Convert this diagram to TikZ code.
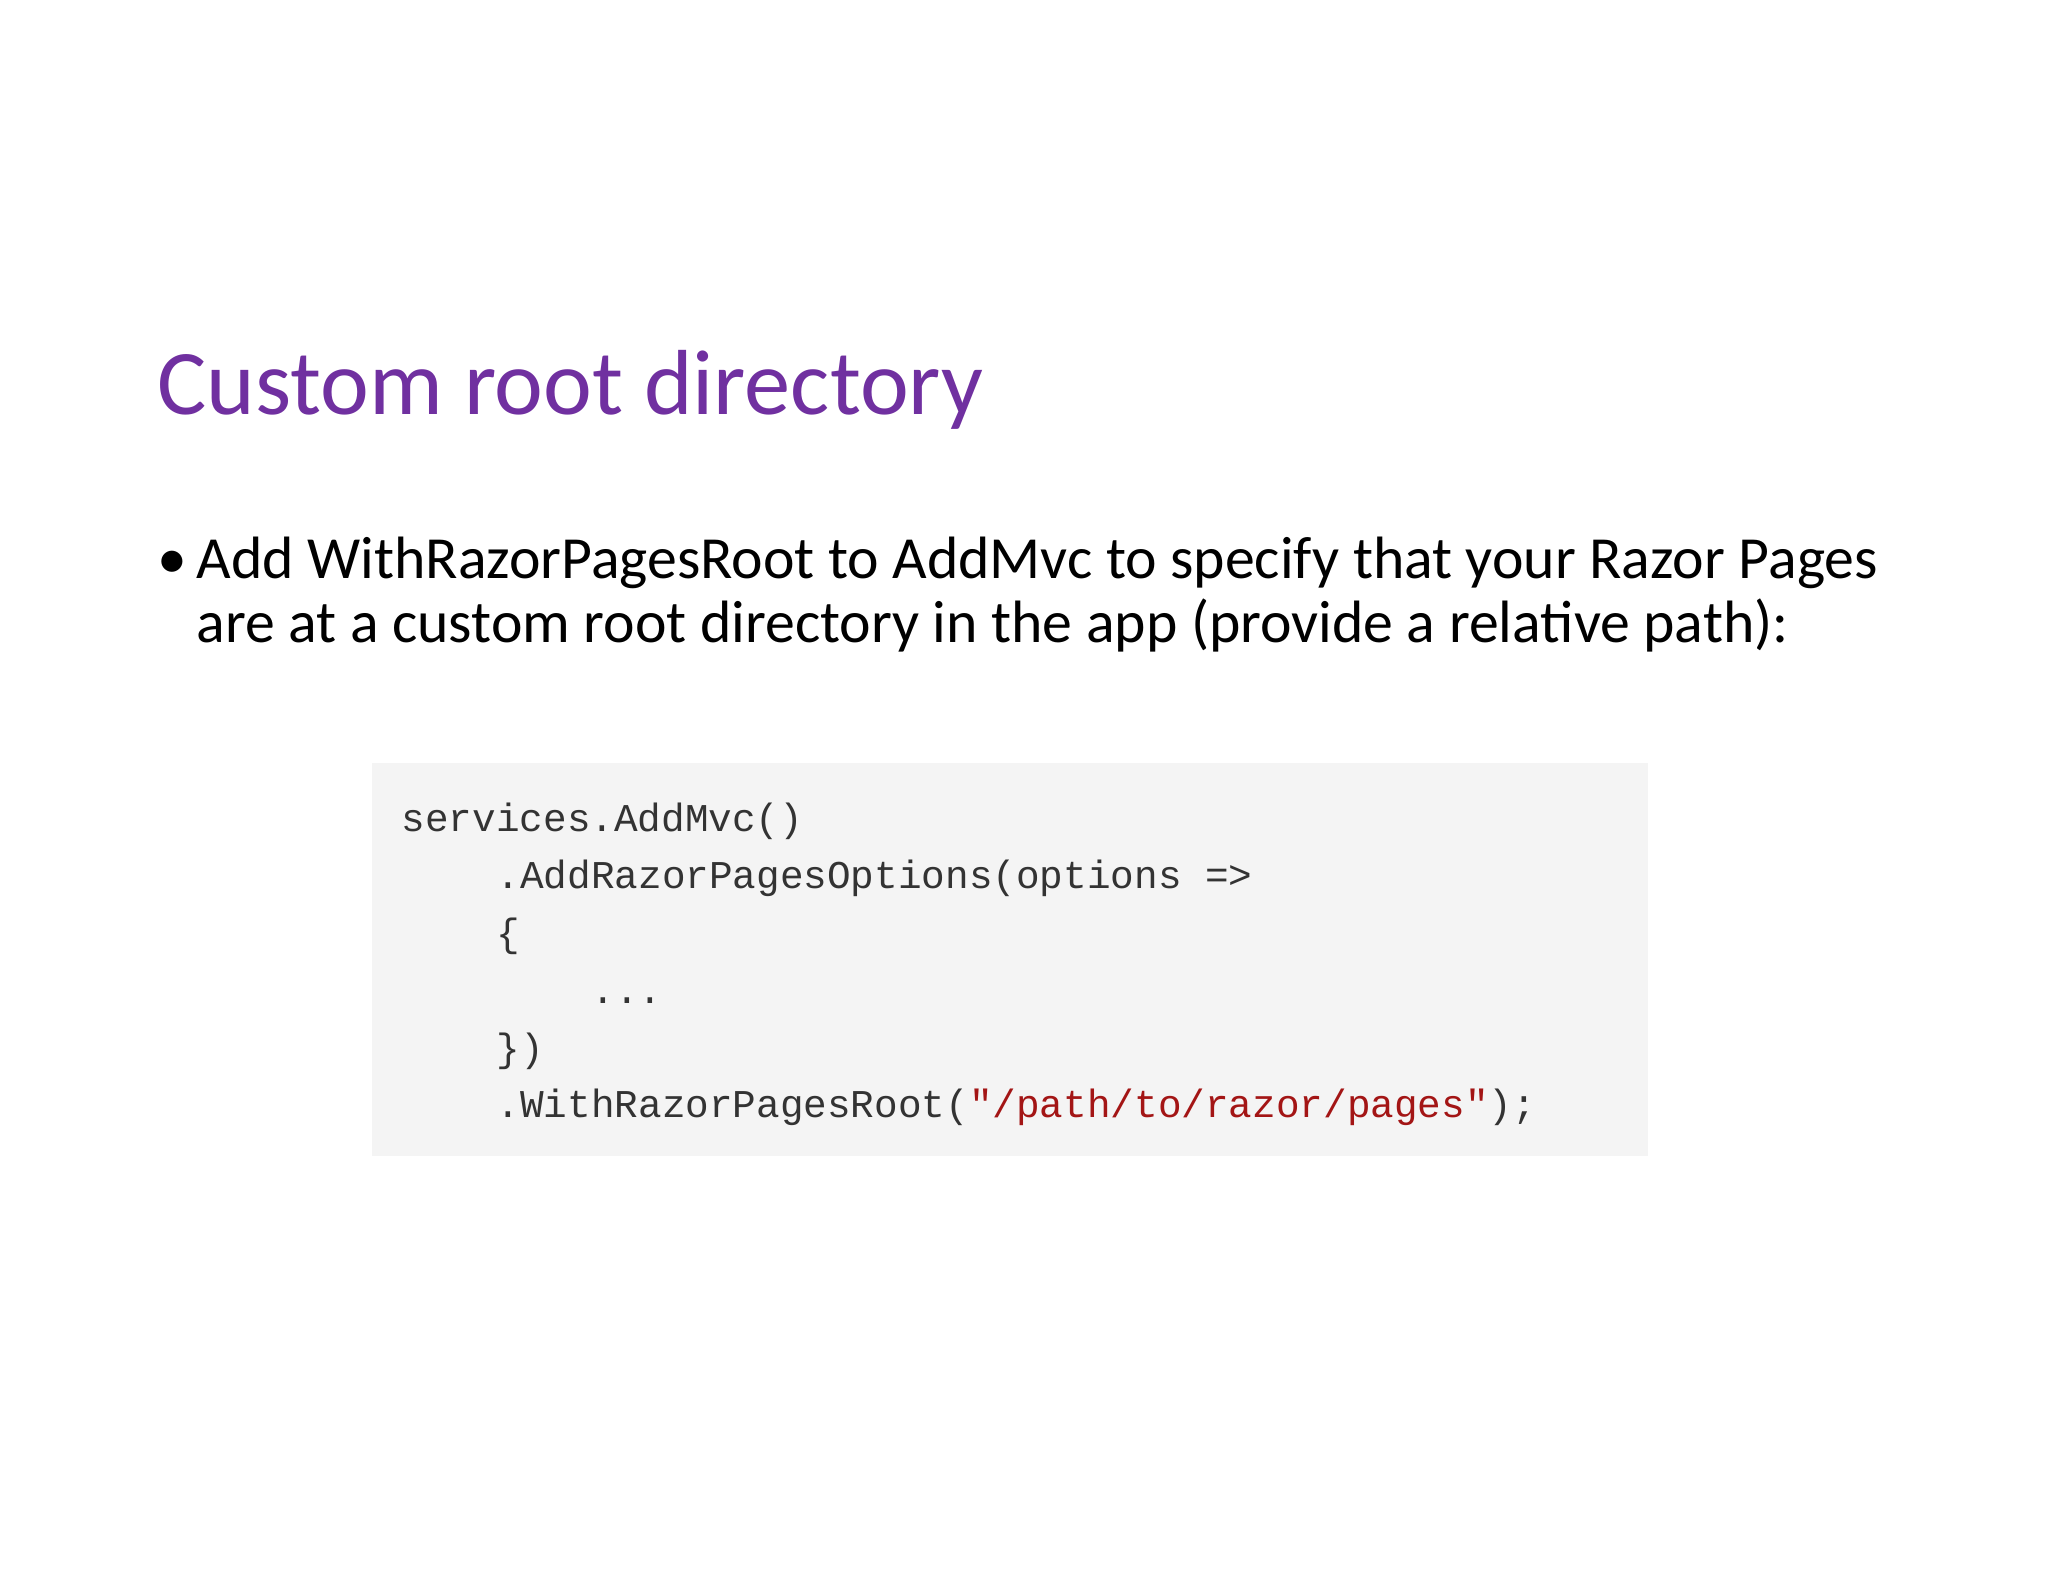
\documentclass[tikz,border=0pt]{standalone}
\usepackage{fontspec}
\setmainfont{Carlito}
\setmonofont{Liberation Mono}
\usepackage{xcolor}
\usetikzlibrary{positioning}
\definecolor{titlepurple}{HTML}{7030A0}
\definecolor{codegray}{HTML}{F4F4F4}
\definecolor{codetext}{HTML}{333333}
\definecolor{codestring}{HTML}{A31515}

\begin{document}
\begin{tikzpicture}[
    title/.style={anchor=base west, inner sep=0pt, font=\fontsize{26.3}{32}\selectfont, text=titlepurple},
    bullettext/.style={anchor=base west, inner sep=0pt, font=\fontsize{17}{20}\selectfont},
    codeline/.style={anchor=base west, inner sep=0pt, font=\ttfamily\fontsize{11.2}{16}\selectfont, text=codetext}
]
    \useasboundingbox (0,0) rectangle (20.48,15.82);

    % --- Title ---
    \node[title] (heading) at (1.57,11.67) {Custom root directory};

    % --- Bullet ---
    \node[bullettext] (dot) at (1.57,10.03) {•};
    \node[bullettext] (line1) at (1.96,10.03) {Add WithRazorPagesRoot to AddMvc to specify that your Razor Pages};
    \node[bullettext] (line2) at (1.96,9.39) {are at a custom root directory in the app (provide a relative path):};

    % --- Code sample ---
    \fill[codegray] (3.72,4.26) rectangle (16.48,8.19);
    \node[codeline] (c1) at (4.01,7.50) {services.AddMvc()};
    \node[codeline] (c2) at (4.96,6.93) {.AddRazorPagesOptions(options =>};
    \node[codeline] (c3) at (4.96,6.35) {\{};
    \node[codeline] (c4) at (5.91,5.78) {...};
    \node[codeline] (c5) at (4.96,5.20) {\})};
    \node[codeline] (c6) at (4.96,4.64) {.WithRazorPagesRoot(\textcolor{codestring}{"/path/to/razor/pages"});};
\end{tikzpicture}
\end{document}
